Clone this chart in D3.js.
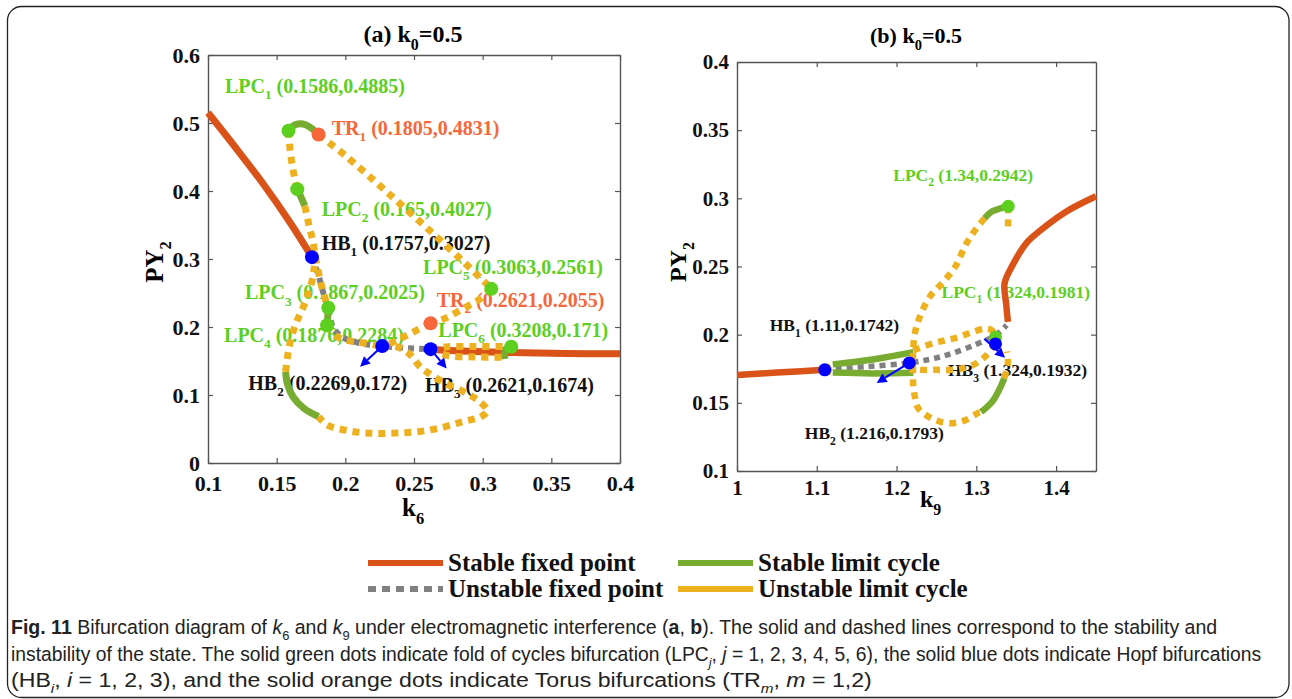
<!DOCTYPE html>
<html><head><meta charset="utf-8">
<script src="https://cdn.jsdelivr.net/npm/d3@7"></script>
<style>body{margin:0;background:#fff}svg{display:block}</style>
</head><body><svg id="c" width="1292" height="699"></svg>
<script>
// ---------------- DATA : panel (a) k6 ----------------
const aXTicks=[0.1,0.15,0.2,0.25,0.3,0.35,0.4];
const aXTickLabels=["0.1","0.15","0.2","0.25","0.3","0.35","0.4"];
const aYTicks=[0,0.1,0.2,0.3,0.4,0.5,0.6];
const aYTickLabels=["0","0.1","0.2","0.3","0.4","0.5","0.6"];
const aStableFixed=[
 [[0.1,0.515],[0.12,0.464],[0.14,0.411],[0.16,0.353],[0.1757,0.3027]],
 [[0.2621,0.1674],[0.28,0.165],[0.32,0.1625],[0.36,0.161],[0.4,0.1605]]
];
const aUnstableFixed=[
 [[0.1757,0.3027],[0.18,0.279],[0.184,0.25],[0.1874,0.228],[0.191,0.2],[0.198,0.185],[0.21,0.1765],[0.2269,0.172],[0.245,0.169],[0.2621,0.1674]]
];
const aStableCycle=[
 [[0.1586,0.4885],[0.1615,0.495],[0.1655,0.4985],[0.171,0.4975],[0.1765,0.4905],[0.1805,0.4831]],
 [[0.165,0.4027],[0.1675,0.392],[0.1705,0.378]],
 [[0.1876,0.2284],[0.1872,0.215],[0.1867,0.2025]],
 [[0.1565,0.134],[0.158,0.115],[0.162,0.097],[0.17,0.08],[0.1805,0.068]],
 [[0.3208,0.171],[0.3165,0.167],[0.3162,0.153]]
];
const aUnstableCycle=[
 [[0.1586,0.4885],[0.1598,0.46],[0.162,0.43],[0.165,0.4027]],
 [[0.1705,0.378],[0.1735,0.35],[0.1765,0.325],[0.1785,0.3],[0.181,0.275],[0.184,0.25],[0.1876,0.2284]],
 [[0.1805,0.4831],[0.2,0.452],[0.23,0.399],[0.263,0.339],[0.286,0.296],[0.3,0.269],[0.3063,0.2561]],
 [[0.3063,0.2561],[0.297,0.2397],[0.286,0.2275],[0.273,0.213],[0.2621,0.2055]],
 [[0.2621,0.2055],[0.2524,0.1956],[0.2427,0.1857],[0.235,0.178],[0.2269,0.172]],
 [[0.1867,0.2025],[0.191,0.19],[0.198,0.182],[0.21,0.1775],[0.2269,0.172]],
 [[0.2269,0.172],[0.237,0.171],[0.2448,0.1637],[0.2497,0.154],[0.2543,0.1416],[0.2592,0.134],[0.272,0.118],[0.2884,0.1025],[0.298,0.09],[0.3035,0.0765],[0.2985,0.068],[0.2855,0.0608],[0.27,0.052],[0.2527,0.046],[0.2365,0.044],[0.2199,0.0436],[0.2035,0.047],[0.1869,0.0559],[0.1805,0.068]],
 [[0.1565,0.134],[0.1575,0.15],[0.159,0.17],[0.1615,0.19],[0.165,0.21],[0.1695,0.23],[0.173,0.25],[0.176,0.27],[0.1775,0.29]],
 [[0.2621,0.1674],[0.275,0.171],[0.295,0.1712],[0.316,0.1712]],
 [[0.2621,0.1674],[0.275,0.158],[0.295,0.156],[0.316,0.1555]]
];
const aHopf=[["HB","1",0.1757,0.3027],["HB","2",0.2269,0.172],["HB","3",0.2621,0.1674]];
const aFold=[["LPC","1",0.1586,0.4885],["LPC","2",0.165,0.4027],["LPC","3",0.1867,0.2025],["LPC","4",0.1876,0.2284],["LPC","5",0.3063,0.2561],["LPC","6",0.3208,0.171]];
const aTorus=[["TR","1",0.1805,0.4831],["TR","2",0.2621,0.2055]];
const aArrows=[[[0.2269,0.172],[0.2107,0.1416]],[[0.2621,0.1674],[0.2738,0.139]]];

// ---------------- DATA : panel (b) k9 ----------------
const bXTicks=[1,1.1,1.2,1.3,1.4];
const bXTickLabels=["1","1.1","1.2","1.3","1.4"];
const bYTicks=[0.1,0.15,0.2,0.25,0.3,0.35,0.4];
const bYTickLabels=["0.1","0.15","0.2","0.25","0.3","0.35","0.4"];
const bStableFixed=[
 [[1.0,0.1705],[1.05,0.1722],[1.11,0.1742]],
 [[1.3396,0.2094],[1.3375,0.222],[1.3354,0.2376],[1.345,0.2505],[1.3625,0.267],[1.381,0.2768],[1.4125,0.2902],[1.45,0.3015]]
];
const bUnstableFixed=[
 [[1.11,0.1742],[1.16,0.1765],[1.216,0.1793],[1.26,0.1845],[1.3,0.193],[1.324,0.1995],[1.338,0.207]]
];
const bStableCycle=[
 [[1.12,0.1782],[1.17,0.1818],[1.221,0.1872]],
 [[1.12,0.1722],[1.17,0.1716],[1.221,0.172]],
 [[1.3104,0.2854],[1.32,0.2905],[1.3312,0.2928],[1.34,0.2942]],
 [[1.306,0.1432],[1.32,0.151],[1.329,0.16],[1.335,0.168]]
];
const bUnstableCycle=[
 [[1.3104,0.2854],[1.2958,0.2745],[1.2854,0.2645],[1.275,0.2512],[1.26,0.2395],[1.2416,0.2278],[1.2291,0.213],[1.2229,0.2009],[1.2208,0.1886],[1.2205,0.176],[1.2208,0.1641],[1.2229,0.1547],[1.2271,0.1461],[1.2396,0.14],[1.2541,0.1363],[1.2708,0.1351],[1.2875,0.1376],[1.3021,0.1425],[1.306,0.1432]],
 [[1.34,0.2942],[1.3398,0.284],[1.3396,0.278]],
 [[1.221,0.1885],[1.2458,0.1937],[1.2625,0.196],[1.2791,0.1984],[1.2958,0.2021],[1.3125,0.2045],[1.32,0.203],[1.324,0.1981]],
 [[1.216,0.1793],[1.225,0.175],[1.25,0.1742],[1.275,0.1745],[1.295,0.1775],[1.312,0.1845],[1.324,0.1932]],
 [[1.335,0.168],[1.3385,0.175],[1.3396,0.181],[1.3385,0.1877]],
 [[1.11,0.1742],[1.12,0.1782]],
 [[1.11,0.1742],[1.12,0.1722]]
];
const bHopf=[["HB","1",1.11,0.1742],["HB","2",1.216,0.1793],["HB","3",1.324,0.1932]];
const bFold=[["LPC","1",1.324,0.1981],["LPC","2",1.34,0.2942]];
const bTorus=[];
const bArrows=[[[1.216,0.1793],[1.175,0.1646]],[[1.31,0.197],[1.336,0.183]]];

const legendLabels=["Stable fixed point","Stable limit cycle","Unstable fixed point","Unstable limit cycle"];

// ---------------- LAYOUT / STYLE ----------------
const SERIF="'Liberation Serif','Times New Roman',Times,serif";
const C={red:"#D95319",green:"#77AC30",orange:"#EDB120",gray:"#808080",blue:"#0000FF",
  dotGreen:"#5ccf1f",labGreen:"#5ccf1f",tr:"#F6673A",axis:"#555"};

const aLabelPos={"LPC1":[0.1124,0.554],"TR1":[0.1901,0.4922],"LPC2":[0.1828,0.3731],"HB1":[0.1828,0.3235],
 "LPC5":[0.2566,0.2882],"LPC3":[0.1269,0.2504],"TR2":[0.2665,0.2397],"LPC4":[0.1117,0.1882],
 "LPC6":[0.2677,0.1956],"HB2":[0.1293,0.1172],"HB3":[0.258,0.1147]};
const bLabelPos={"LPC2":[1.1958,0.3172],"LPC1":[1.2563,0.2314],"HB1":[1.041,0.2069],"HB3":[1.2645,0.1739],"HB2":[1.085,0.1274]};

const svg=d3.select("#c");
svg.append("rect").attr("x",7.5).attr("y",6.5).attr("width",1281.5).attr("height",691).attr("rx",14)
  .attr("fill","none").attr("stroke","#222").attr("stroke-width",1.3);

function rich(t,parts,size){
  let sh=0;
  parts.forEach(p=>{
    const ts=t.append("tspan").text(p.t);
    if(p.sub){const d=size*0.32;ts.attr("font-size",size*0.66).attr("dy",d-sh);sh=d;}
    else if(sh){ts.attr("dy",-sh);sh=0;}
    if(p.i)ts.attr("font-style","italic");
    if(p.b)ts.attr("font-weight","bold");
  });
}

function panel(cfg){
  const x=d3.scaleLinear().domain(cfg.xd).range([cfg.left,cfg.right]);
  const y=d3.scaleLinear().domain(cfg.yd).range([cfg.bottom,cfg.top]);
  const g=svg.append("g");
  const fmt=(ticks,labels)=>d=>labels[ticks.indexOf(d)];
  const ax=[
    [d3.axisBottom(x).tickValues(cfg.xt).tickFormat(fmt(cfg.xt,cfg.xl)),`translate(0,${cfg.bottom})`,cfg.padX],
    [d3.axisTop(x).tickValues(cfg.xt).tickFormat(""),`translate(0,${cfg.top})`,3],
    [d3.axisLeft(y).tickValues(cfg.yt).tickFormat(fmt(cfg.yt,cfg.yl)),`translate(${cfg.left},0)`,cfg.padY],
    [d3.axisRight(y).tickValues(cfg.yt).tickFormat(""),`translate(${cfg.right},0)`,3]
  ];
  ax.forEach(([a,tr,pad])=>{
    const s=g.append("g").attr("transform",tr).call(a.tickSize(-5).tickSizeOuter(0).tickPadding(pad));
    s.select(".domain").attr("stroke",C.axis).attr("stroke-width",1.4);
    s.selectAll(".tick line").attr("stroke",C.axis).attr("stroke-width",1.2);
    s.selectAll(".tick text").attr("font-family",SERIF).attr("font-weight","bold")
      .attr("font-size",cfg.tickSize).attr("fill","#111");
  });
  const tt=g.append("text").attr("x",cfg.titleX).attr("y",cfg.titleY).attr("text-anchor","middle")
    .attr("font-family",SERIF).attr("font-weight","bold").attr("font-size",cfg.titleSize);
  rich(tt,[{t:cfg.title+" k"},{t:"0",sub:true},{t:"=0.5"}],cfg.titleSize);
  const xl=g.append("text").attr("x",cfg.xlX).attr("y",cfg.xlY).attr("font-family",SERIF)
    .attr("font-weight","bold").attr("font-size",cfg.axSize);
  rich(xl,[{t:"k"},{t:cfg.xsub,sub:true}],cfg.axSize);
  const yl=g.append("text").attr("transform",`translate(${cfg.ylX},${cfg.ylY}) rotate(-90)`)
    .attr("text-anchor","middle").attr("font-family",SERIF).attr("font-weight","bold").attr("font-size",cfg.axSize);
  rich(yl,[{t:"PY"},{t:"2",sub:true}],cfg.axSize);
  const allPts=[...cfg.hopf.map(d=>[d,"#111"]),...cfg.fold.map(d=>[d,C.labGreen]),...cfg.torus.map(d=>[d,C.tr])];
  allPts.forEach(([d,col])=>{
    const pos=cfg.lpos[d[0]+d[1]]; if(!pos)return;
    const t=g.append("text").attr("x",x(pos[0])).attr("y",y(pos[1])+cfg.labSize*0.33)
      .attr("font-family",SERIF).attr("font-weight","bold").attr("font-size",cfg.labSize).attr("fill",col);
    rich(t,[{t:d[0]},{t:d[1],sub:true},{t:` (${d[2]},${d[3]})`}],cfg.labSize);
  });
  const line=d3.line().x(d=>x(d[0])).y(d=>y(d[1])).curve(d3.curveCatmullRom.alpha(0.5));
  const draw=(arr,col,w,dash)=>arr.forEach(seg=>g.append("path").attr("d",line(seg)).attr("fill","none")
    .attr("stroke",col).attr("stroke-width",w).attr("stroke-dasharray",dash||null));
  draw(cfg.sf,C.red,cfg.lw);
  draw(cfg.uf,C.gray,cfg.lw-1,"6,5");
  draw(cfg.sc,C.green,cfg.lw);
  draw(cfg.uc,C.orange,cfg.lw,"7,6");
  cfg.arrows.forEach(([p,q])=>{
    const x1=x(p[0]),y1=y(p[1]),x2=x(q[0]),y2=y(q[1]);
    const ang=Math.atan2(y2-y1,x2-x1),L=10,Wd=5;
    const bx=x2-L*Math.cos(ang),by=y2-L*Math.sin(ang);
    g.append("line").attr("x1",x1).attr("y1",y1).attr("x2",bx).attr("y2",by).attr("stroke",C.blue).attr("stroke-width",2);
    g.append("path").attr("d",`M${x2},${y2}L${bx-Wd*Math.sin(ang)},${by+Wd*Math.cos(ang)}L${bx+Wd*Math.sin(ang)},${by-Wd*Math.cos(ang)}Z`).attr("fill",C.blue);
  });
  const dot=(arr,col)=>arr.forEach(d=>g.append("circle").attr("cx",x(d[2])).attr("cy",y(d[3])).attr("r",cfg.r).attr("fill",col));
  dot(cfg.torus,C.tr); dot(cfg.fold,C.dotGreen); dot(cfg.hopf,C.blue);
}

panel({xd:[0.1,0.4],yd:[0,0.6],left:208,right:620,top:55,bottom:463,xt:aXTicks,xl:aXTickLabels,yt:aYTicks,yl:aYTickLabels,
  padX:12,padY:8,tickSize:22,title:"(a)",titleX:413,titleY:42,titleSize:24,xlX:402,xlY:516,xsub:"6",ylX:163,ylY:262,axSize:25,
  labSize:20,lpos:aLabelPos,hopf:aHopf,fold:aFold,torus:aTorus,sf:aStableFixed,uf:aUnstableFixed,sc:aStableCycle,uc:aUnstableCycle,
  arrows:aArrows,lw:7,r:7});
panel({xd:[1,1.45],yd:[0.1,0.4],left:737,right:1096,top:62,bottom:471,xt:bXTicks,xl:bXTickLabels,yt:bYTicks,yl:bYTickLabels,
  padX:9,padY:8,tickSize:21,title:"(b)",titleX:916,titleY:43,titleSize:22,xlX:920,xlY:507,xsub:"9",ylX:686,ylY:262,axSize:24,
  labSize:17.5,lpos:bLabelPos,hopf:bHopf,fold:bFold,torus:bTorus,sf:bStableFixed,uf:bUnstableFixed,sc:bStableCycle,uc:bUnstableCycle,
  arrows:bArrows,lw:6.5,r:6.5});

// legend
const legStyles=[[C.red,null],[C.green,null],[C.gray,"8,6"],[C.orange,null]];
const leg=svg.append("g");
legendLabels.forEach((lab,i)=>{
  const col=i%2,row=Math.floor(i/2);
  const lx=col?678:368, ly=row?589:563;
  leg.append("line").attr("x1",lx).attr("x2",lx+75).attr("y1",ly).attr("y2",ly)
    .attr("stroke",legStyles[i][0]).attr("stroke-width",6).attr("stroke-dasharray",legStyles[i][1]);
  leg.append("text").attr("x",lx+80).attr("y",ly+8).attr("font-family",SERIF).attr("font-weight","bold")
    .attr("font-size",25).attr("fill","#111").text(lab);
});

// caption (condensed by horizontal scaling to the reference line widths)
const capLines=[
 [[{t:"Fig. 11",b:true},{t:"  Bifurcation diagram of "},{t:"k",i:true},{t:"6",sub:true},{t:" and "},{t:"k",i:true},{t:"9",sub:true},
   {t:" under electromagnetic interference ("},{t:"a",b:true},{t:", "},{t:"b",b:true},{t:"). The solid and dashed lines correspond to the stability and"}],1207],
 [[{t:"instability of the state. The solid green dots indicate fold of cycles bifurcation (LPC"},{t:"j",sub:true,i:true},{t:", "},{t:"j",i:true},
   {t:" = 1, 2, 3, 4, 5, 6), the solid blue dots indicate Hopf bifurcations"}],1251],
 [[{t:"(HB"},{t:"i",sub:true,i:true},{t:", "},{t:"i",i:true},{t:" = 1, 2, 3), and the solid orange dots indicate Torus bifurcations (TR"},{t:"m",sub:true,i:true},
   {t:", "},{t:"m",i:true},{t:" = 1,2)"}],861]
];
capLines.forEach(([parts,len],i)=>{
  const t=svg.append("text").attr("x",0).attr("y",0)
    .attr("font-family","'Liberation Sans','Open Sans',sans-serif").attr("font-size",19.5).attr("fill","#222");
  rich(t,parts,19.5);
  const w=t.node().getComputedTextLength();
  t.attr("transform",`translate(11,${634+i*26.5}) scale(${len/w},1)`);
});
</script></body></html>
